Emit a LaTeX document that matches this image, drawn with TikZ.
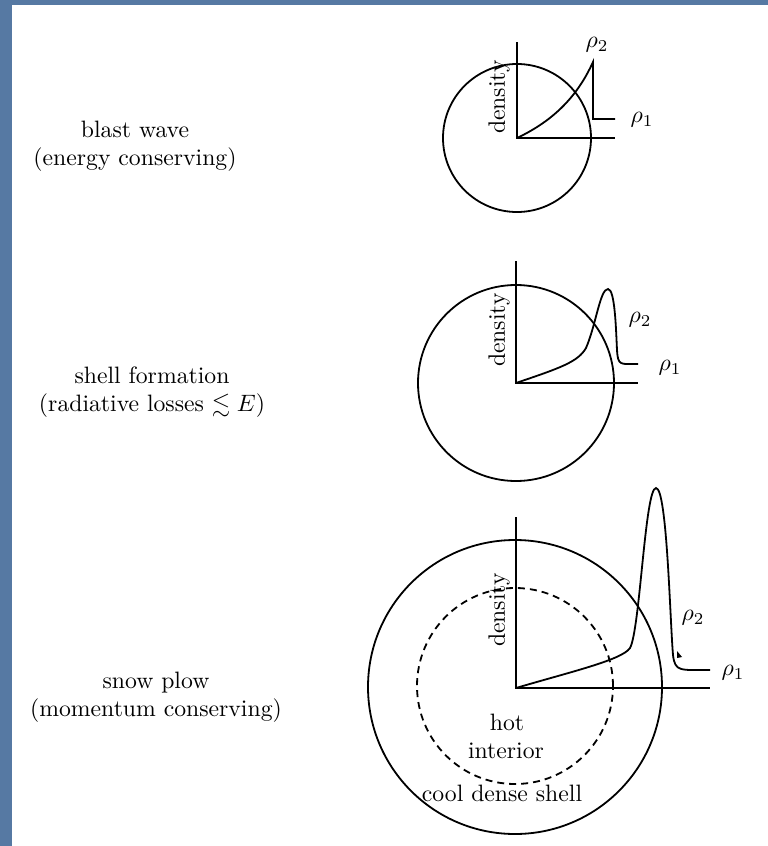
\RequirePackage{fix-cm}
\documentclass[tikz,border=0pt]{standalone}
\usepackage{amssymb}
\usetikzlibrary{positioning}
\definecolor{slideblue}{RGB}{86,121,163}

\begin{document}
\begin{tikzpicture}[x=1pt,y=-1pt,line width=1.8pt,every node/.style={scale=2.37}]
  \fill[slideblue] (0,0) rectangle (768,846);
  \fill[white] (12,5) rectangle (768,846);
  \useasboundingbox (0,0) rectangle (768,846);
  % blast wave
  \coordinate (o1) at (517,138);
  \coordinate (top1) at (517,42);
  \coordinate (end1) at (615,138);
  \draw (o1) circle[radius=74pt];
  \draw (top1) -- (o1) -- (end1);
  \draw (o1) .. controls (555,120) and (578,95) .. (593,62) -- (593,119) -- (615,119);
  \node[rotate=90] (dens1) at (499,97) {density};
  \node (rhoa1) at (597,45) {$\rho_2$};
  \node (rhob1) at (642,120) {$\rho_1$};
  \node[align=center] (blast) at (135,146) {blast wave\\(energy conserving)};
  % shell formation
  \coordinate (o2) at (516,383);
  \coordinate (top2) at (516,261);
  \coordinate (end2) at (638,383);
  \draw (o2) circle[radius=98pt];
  \draw (top2) -- (o2) -- (end2);
  \draw (o2) .. controls (560,368) and (578,362) .. (586,348)
    .. controls (596,325) and (600,289) .. (608,289)
    .. controls (615,289) and (616,330) .. (617,350)
    .. controls (618,366) and (620,364) .. (638,364);
  \node[rotate=90] (dens2) at (499,330) {density};
  \node (rhoa2) at (640,320) {$\rho_2$};
  \node (rhob2) at (670,368) {$\rho_1$};
  \node[align=center] (shell) at (152,392) {shell formation\\(radiative losses $\lesssim E$)};
  % snow plow
  \coordinate (o3) at (516,688);
  \coordinate (top3) at (516,517);
  \coordinate (end3) at (710,688);
  \draw (515,687) circle[radius=147pt];
  \draw[dash pattern=on 7pt off 5pt] (515,686) circle[radius=98pt];
  \draw (top3) -- (o3) -- (end3);
  \draw (o3) .. controls (570,672) and (622,660) .. (630,648)
    .. controls (640,630) and (645,488) .. (656,488)
    .. controls (667,488) and (670,620) .. (673,655)
    .. controls (675,672) and (680,670) .. (710,670);
  \fill (677,651) -- (682,657) -- (677,658) -- cycle;
  \node[rotate=90] (dens3) at (499,610) {density};
  \node (rhoa3) at (693,618) {$\rho_2$};
  \node (rhob3) at (733,673) {$\rho_1$};
  \node (hot) at (507,722) {hot};
  \node (inter) at (506,751) {interior};
  \node (cool) at (502,793) {cool dense shell};
  \node[align=center] (snow) at (156,697) {snow plow\\(momentum conserving)};
\end{tikzpicture}
\end{document}
